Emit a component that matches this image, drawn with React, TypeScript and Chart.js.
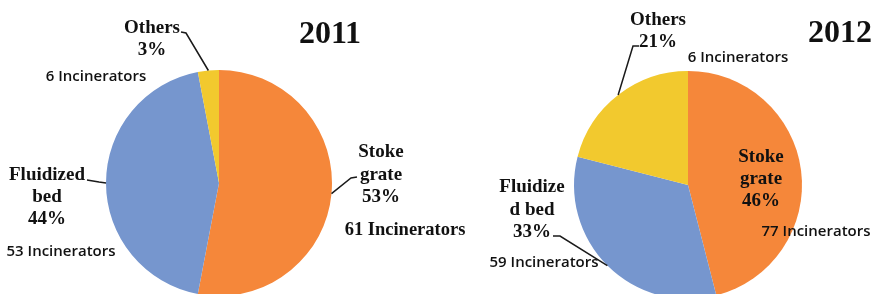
import React, { useEffect, useRef } from "react";
import { Chart, registerables } from "chart.js";

Chart.register(...registerables);

// ---- data ----
const categories = ["Stoke grate", "Fluidized bed", "Others"];
const years = ["2011", "2012"];
const share2011 = [53, 44, 3];
const share2012 = [46, 33, 21];
const incinerators2011 = [61, 53, 6];
const incinerators2012 = [77, 59, 6];

// ---- styles / layout ----
const colors = ["#F5873A", "#7696CE", "#F2C92E"];
const W = 878;
const H = 360;
const SERIF = "'Liberation Serif', 'Times New Roman', serif";
const SANS = "'Open Sans', Lato, sans-serif";
const TITLE_FONT = `bold 32px ${SERIF}`;
const NAME_FONT = `bold 19px ${SERIF}`;
const COUNT_FONT = `600 15px ${SANS}`;
const COUNT_SERIF = `bold 18.5px ${SERIF}`;

type TextSpec = { lines: string[]; x: number; y: number; lh: number; font: string; align?: CanvasTextAlign };
type LeaderSpec = { index: number; pts: [number, number][] };

function labelPlugin(texts: TextSpec[], leaders: LeaderSpec[]) {
  return {
    id: "pieLabels",
    afterDatasetsDraw(chart: any) {
      const ctx: CanvasRenderingContext2D = chart.ctx;
      const arcs = chart.getDatasetMeta(0).data;
      ctx.save();
      ctx.strokeStyle = "#1a1a1a";
      ctx.lineWidth = 1.5;
      for (const l of leaders) {
        const p = arcs[l.index].getProps(["x", "y", "startAngle", "endAngle", "outerRadius"], true);
        const mid = (p.startAngle + p.endAngle) / 2;
        const ex = p.x + Math.cos(mid) * p.outerRadius;
        const ey = p.y + Math.sin(mid) * p.outerRadius;
        ctx.beginPath();
        ctx.moveTo(l.pts[0][0], l.pts[0][1]);
        for (let i = 1; i < l.pts.length; i++) ctx.lineTo(l.pts[i][0], l.pts[i][1]);
        ctx.lineTo(ex, ey);
        ctx.stroke();
      }
      ctx.fillStyle = "#111111";
      ctx.textBaseline = "alphabetic";
      for (const t of texts) {
        ctx.font = t.font;
        ctx.textAlign = t.align || "center";
        t.lines.forEach((s, i) => ctx.fillText(s, t.x, t.y + i * t.lh));
      }
      ctx.restore();
    },
  };
}

const pct = (v: number) => `${v}%`;
const inc = (v: number) => `${v} Incinerators`;

const texts2011: TextSpec[] = [
  { lines: [years[0]], x: 330, y: 43, lh: 0, font: TITLE_FONT },
  { lines: ["Others", pct(share2011[2])], x: 152, y: 33, lh: 22, font: NAME_FONT },
  { lines: [inc(incinerators2011[2])], x: 96, y: 81, lh: 0, font: COUNT_FONT },
  { lines: ["Stoke", "grate", pct(share2011[0])], x: 381, y: 157, lh: 22.5, font: NAME_FONT },
  { lines: [inc(incinerators2011[0])], x: 405, y: 235, lh: 0, font: COUNT_SERIF },
  { lines: ["Fluidized", "bed", pct(share2011[1])], x: 47, y: 180, lh: 22, font: NAME_FONT },
  { lines: [inc(incinerators2011[1])], x: 61, y: 256, lh: 0, font: COUNT_FONT },
];
const leaders2011: LeaderSpec[] = [
  { index: 2, pts: [[181, 32], [186, 33]] },
  { index: 1, pts: [[87, 180], [99, 182]] },
  { index: 0, pts: [[357, 177], [351, 178]] },
];

const texts2012: TextSpec[] = [
  { lines: [years[1]], x: 840, y: 42, lh: 0, font: TITLE_FONT },
  { lines: ["Others", pct(share2012[2])], x: 658, y: 25, lh: 22, font: NAME_FONT },
  { lines: [inc(incinerators2012[2])], x: 738, y: 62, lh: 0, font: COUNT_FONT },
  { lines: ["Stoke", "grate", pct(share2012[0])], x: 761, y: 162, lh: 22, font: NAME_FONT },
  { lines: [inc(incinerators2012[0])], x: 816, y: 236, lh: 0, font: COUNT_FONT },
  { lines: ["Fluidize", "d bed", pct(share2012[1])], x: 532, y: 192, lh: 22.5, font: NAME_FONT },
  { lines: [inc(incinerators2012[1])], x: 544, y: 267, lh: 0, font: COUNT_FONT },
];
const leaders2012: LeaderSpec[] = [
  { index: 2, pts: [[639, 46], [633, 46]] },
  { index: 1, pts: [[553, 236], [560, 236]] },
];

function PieCanvas(props: {
  values: number[];
  padding: { left: number; right: number; top: number; bottom: number };
  texts: TextSpec[];
  leaders: LeaderSpec[];
}) {
  const ref = useRef<HTMLCanvasElement>(null);
  useEffect(() => {
    if (!ref.current) return;
    const chart = new Chart(ref.current, {
      type: "pie",
      data: {
        labels: categories,
        datasets: [
          {
            data: props.values,
            backgroundColor: colors,
            borderWidth: 0,
            hoverOffset: 0,
            offset: 0,
          },
        ],
      },
      options: {
        responsive: false,
        animation: false,
        layout: { padding: props.padding },
        plugins: { legend: { display: false }, tooltip: { enabled: false } },
        events: [],
      },
      plugins: [labelPlugin(props.texts, props.leaders)],
    });
    return () => chart.destroy();
  }, []);
  return (
    <canvas
      ref={ref}
      width={W}
      height={H}
      style={{ position: "absolute", left: 0, top: 0, width: W, height: H }}
    />
  );
}

export default function App() {
  return (
    <div
      style={{
        position: "fixed",
        left: 0,
        top: 0,
        width: W,
        height: 294,
        overflow: "hidden",
        background: "#ffffff",
      }}
    >
      <PieCanvas
        values={share2011}
        padding={{ left: 106, right: W - 332, top: 70, bottom: H - 296 }}
        texts={texts2011}
        leaders={leaders2011}
      />
      <PieCanvas
        values={share2012}
        padding={{ left: 574, right: W - 802, top: 71, bottom: H - 299 }}
        texts={texts2012}
        leaders={leaders2012}
      />
    </div>
  );
}
